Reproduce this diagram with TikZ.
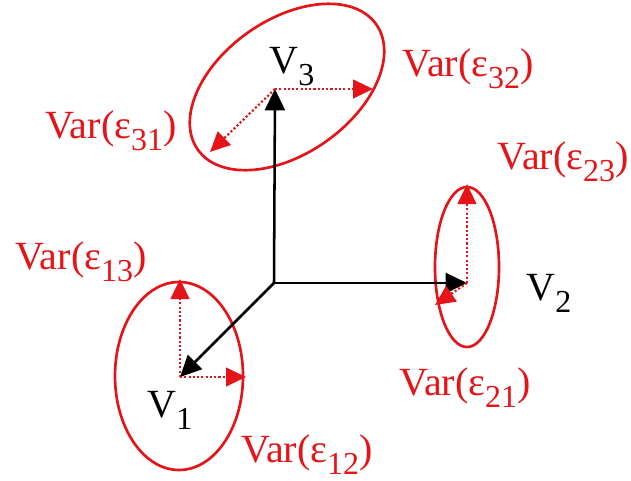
\documentclass[tikz,border=0pt]{standalone}
\usepackage{fontspec}
\setmainfont{Liberation Serif}
\usetikzlibrary{arrows.meta}
\definecolor{vred}{RGB}{228,20,24}
\newcommand{\mysub}[1]{\raisebox{-0.3em}{\fontsize{24}{26}\selectfont #1}}
\begin{document}
\begin{tikzpicture}[x=0.75pt,y=-0.75pt,
  axis/.style={black,line width=1.9pt,-{Triangle[length=16pt,width=15pt]}},
  varline/.style={vred,line width=1.6pt,dash pattern=on 1.6pt off 1.6pt,-{Triangle[length=15pt,width=14pt]}},
  blob/.style={vred,line width=2pt},
  vlabel/.style={font=\fontsize{30}{32}\selectfont,inner sep=0pt},
  elabel/.style={vred,font=\fontsize{30}{32}\selectfont,inner sep=0pt}]
\useasboundingbox (0,0) rectangle (631,481);
\coordinate (O) at (274,283);
\coordinate (T3) at (275,89);
\coordinate (T2) at (467,283);
\coordinate (T1) at (180,377);
% ellipses
\draw[blob,rotate around={35:(287,87)}] (287,87) ellipse (109 and 67);
\draw[blob] (467,267) ellipse (32 and 80);
\draw[blob] (179,376) ellipse (64 and 94);
% axes
\draw[axis] (O) -- (T3);
\draw[axis] (O) -- (T2);
\draw[axis] (O) -- (T1);
% variance arrows
\coordinate (E32) at (373,89);
\coordinate (E31) at (210,152);
\coordinate (E23) at (467,184);
\coordinate (E21) at (435,305);
\coordinate (E13) at (180,279);
\coordinate (E12) at (246,377);
\draw[varline] (T3) -- (E32);
\draw[varline] (T3) -- (E31);
\draw[varline] (T2) -- (E23);
\draw[varline] (T2) -- (E21);
\draw[varline] (T1) -- (E13);
\draw[varline] (T1) -- (E12);
% labels
\node[vlabel] (V3) at (292,67) {V\mysub{3}};
\node[vlabel] (V2) at (549,293) {V\mysub{2}};
\node[vlabel] (V1) at (170,410) {V\mysub{1}};
\node[elabel] (L32) at (468,69) {Var(ε\mysub{32})};
\node[elabel] (L31) at (111,131) {Var(ε\mysub{31})};
\node[elabel] (L23) at (563,162) {Var(ε\mysub{23})};
\node[elabel] (L13) at (81,262) {Var(ε\mysub{13})};
\node[elabel] (L21) at (465,388) {Var(ε\mysub{21})};
\node[elabel] (L12) at (307,455) {Var(ε\mysub{12})};
\end{tikzpicture}
\end{document}
